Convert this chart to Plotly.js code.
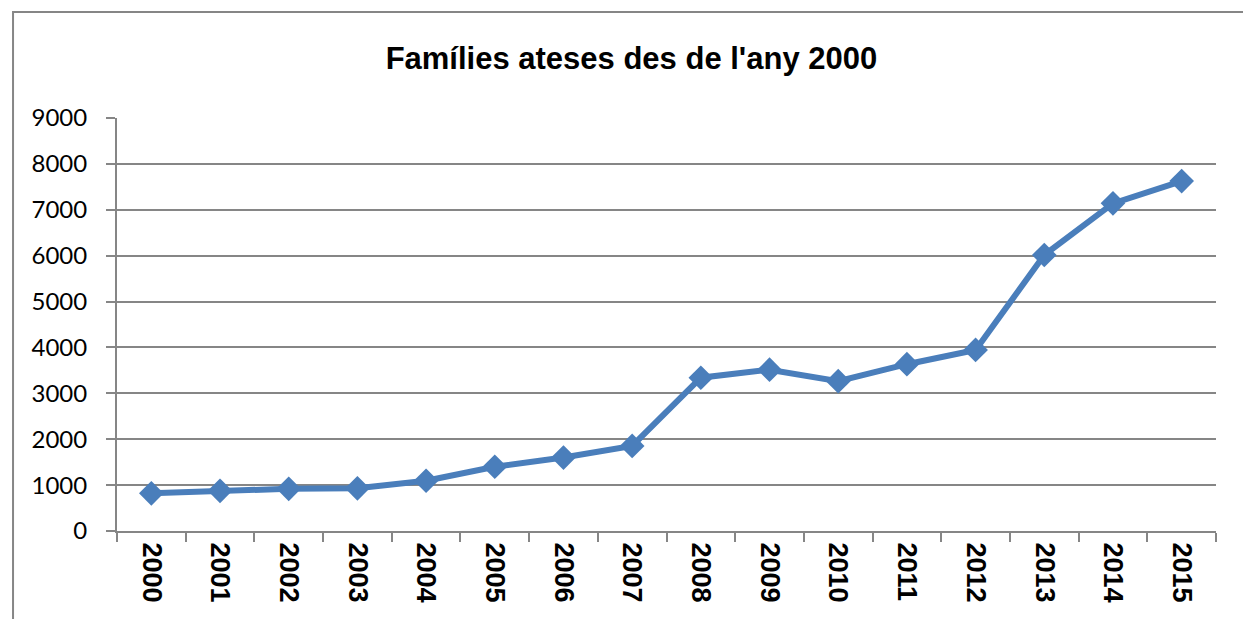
<!DOCTYPE html>
<html>
<head>
<meta charset="utf-8">
<script src="https://cdn.plot.ly/plotly-3.0.1.min.js"></script>
<style>html,body{margin:0;padding:0;background:#fff;}#chart{width:1243px;height:619px;}</style>
</head>
<body>
<div id="chart"></div>
<script>
var years = ["2000","2001","2002","2003","2004","2005","2006","2007","2008","2009","2010","2011","2012","2013","2014","2015"];
var families = [820, 875, 920, 930, 1095, 1400, 1600, 1855, 3340, 3515, 3265, 3635, 3945, 6015, 7140, 7625];
var yTicks = [0,1000,2000,3000,4000,5000,6000,7000,8000,9000];
var titleText = "Famílies ateses des de l'any 2000";

var trace = {
  x: years, y: families, type: "scatter", mode: "lines+markers",
  line: {color: "#4a7ebb", width: 6},
  marker: {symbol: "diamond", size: 19, color: "#4a7ebb"},
  hoverinfo: "x+y"
};

var layout = {
  width: 1243, height: 619,
  margin: {l: 117, r: 27, t: 118, b: 88},
  paper_bgcolor: "#ffffff", plot_bgcolor: "#ffffff",
  showlegend: false,
  title: {text: "<b>" + titleText + "</b>", font: {family: "Liberation Sans, Arial, sans-serif", size: 31, color: "#000"},
          x: 0.508, xref: "container", xanchor: "center", y: 0.906, yref: "container", yanchor: "middle"},
  xaxis: {type: "category", tickson: "boundaries", showgrid: false, showline: true, linecolor: "#868686", linewidth: 2,
          ticks: "outside", ticklen: 9, tickwidth: 2, tickcolor: "#868686", tickangle: 90,
          tickfont: {family: "Liberation Sans, Arial, sans-serif", size: 27, color: "#000", weight: "bold"},
          ticklabelstandoff: 4, range: [-0.5, 15.5], fixedrange: true},
  yaxis: {range: [0, 9000], tickvals: yTicks, ticktext: yTicks.map(String), showgrid: true, gridcolor: "#868686", gridwidth: 2,
          zeroline: false, showline: true, linecolor: "#868686", linewidth: 2,
          ticks: "outside", ticklen: 9, tickwidth: 2, tickcolor: "#868686",
          tickfont: {family: "Lato, Open Sans, sans-serif", size: 24, color: "#000"},
          ticklabelstandoff: 14, fixedrange: true},
  shapes: [{type: "rect", xref: "paper", yref: "paper", x0: -0.0946, x1: 1.3, y0: -0.6, y1: 1.2567,
            line: {color: "#868686", width: 2}, fillcolor: "rgba(0,0,0,0)", layer: "below"}]
};

Plotly.newPlot("chart", [trace], layout, {displayModeBar: false, staticPlot: true});
</script>
</body>
</html>
